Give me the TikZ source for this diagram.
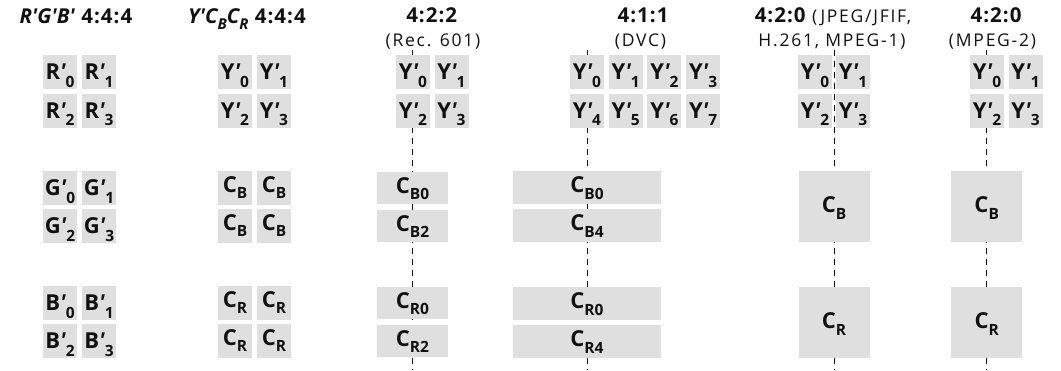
\documentclass[tikz,border=0pt]{standalone}
\usepackage{fontspec}
\setmainfont{Open Sans}
% a second face without the TeX quote mapping, so that ' stays a straight prime
\newfontfamily\primefont{Open Sans}

\definecolor{cellgray}{RGB}{223,223,223}
\definecolor{ink}{RGB}{17,17,17}

% prime and lowered subscripts
\newcommand\pr{{\primefont\bfseries\itshape '}}
\newcommand\sby[1]{\raisebox{-7.5pt}{\fontsize{15.5}{15.5}\selectfont #1}}
\newcommand\sbc[1]{\raisebox{-6.5pt}{\fontsize{15.5}{15.5}\selectfont #1}}
\newcommand\sbt[1]{\raisebox{-6.5pt}{\fontsize{15}{15}\selectfont #1}}
\newcommand\yl[2]{#1\pr\sby{#2}}
\newcommand\cl[1]{C\sbc{#1}}
\newcommand\lblfont{\fontsize{22}{26}\selectfont\bfseries}
\newcommand\ttlfont{\fontsize{20.5}{24}\selectfont\bfseries\addfontfeature{LetterSpace=5}}
\newcommand\subfont{\fontsize{17.5}{21}\selectfont\addfontfeature{LetterSpace=10}}

\begin{document}
\begin{tikzpicture}[x=1pt,y=-1pt,
  cell/.style={fill=cellgray, inner sep=0pt, minimum width=34pt, minimum height=34pt,
    text=ink, font=\lblfont, text height=15pt, text depth=0pt},
  ccell/.style={cell, text height=8pt},
  wide/.style={cell, minimum width=71pt, minimum height=31.7pt, text height=11pt},
  wider/.style={cell, minimum width=148pt, minimum height=32.7pt, text height=11pt},
  big/.style={cell, minimum width=71pt, minimum height=70.7pt, text height=13pt},
  ttl/.style={anchor=base, inner sep=0pt, text=ink, font=\ttlfont},
  sub/.style={anchor=base, inner sep=0pt, text=ink, font=\subfont},
  dashline/.style={draw=ink, line width=0.9pt, dash pattern=on 6pt off 5pt}]
\useasboundingbox (0,0) rectangle (1061,370);

% siting lines of the subsampled chroma, drawn beneath the samples
\coordinate (a1) at (412.5,50);  \coordinate (a2) at (412.5,370);
\coordinate (b1) at (587,50);    \coordinate (b2) at (587,370);
\coordinate (c1) at (834,50);    \coordinate (c2) at (834,370);
\coordinate (e1) at (986.7,50);  \coordinate (e2) at (986.7,370);
\draw[dashline] (a1) -- (a2);
\draw[dashline] (b1) -- (b2);
\draw[dashline] (c1) -- (c2);
\draw[dashline] (e1) -- (e2);

% headings
\node[ttl] (h1) at (76,23) {\textit{R\pr G\pr B\pr} 4:4:4};
\node[ttl] (h2) at (247,23) {\textit{Y\pr C\sbt{B}C\sbt{R}} 4:4:4};
\node[ttl] (h3) at (431.7,22) {4:2:2};
\node[sub] (s3) at (433,46.5) {(Rec. 601)};
\node[ttl] (h4) at (643,22) {4:1:1};
\node[sub] (s4) at (640.5,46.5) {(DVC)};
\node[ttl] (h5) at (833,22) {4:2:0 {\mdseries\subfont (JPEG/JFIF,}};
\node[sub] (s5) at (832,46.5) {H.261, MPEG-1)};
\node[ttl] (h6) at (996,22) {4:2:0};
\node[sub] (s6) at (992.5,46.5) {(MPEG-2)};

% R'G'B' 4:4:4
\node[cell] (r0) at (60,72) {\yl{R}{0}};
\node[cell] (r1) at (99,72) {\yl{R}{1}};
\node[cell] (r2) at (60,110.7) {\yl{R}{2}};
\node[cell] (r3) at (99,110.7) {\yl{R}{3}};
\node[cell] (g0) at (60,188) {\yl{G}{0}};
\node[cell] (g1) at (99,188) {\yl{G}{1}};
\node[cell] (g2) at (60,226) {\yl{G}{2}};
\node[cell] (g3) at (99,226) {\yl{G}{3}};
\node[cell] (bb0) at (60,303) {\yl{B}{0}};
\node[cell] (bb1) at (99,303) {\yl{B}{1}};
\node[cell] (bb2) at (60,341) {\yl{B}{2}};
\node[cell] (bb3) at (99,341) {\yl{B}{3}};

% Y'CbCr 4:4:4
\node[cell] (ya0) at (235,72) {\yl{Y}{0}};
\node[cell] (ya1) at (274,72) {\yl{Y}{1}};
\node[cell] (ya2) at (235,110.7) {\yl{Y}{2}};
\node[cell] (ya3) at (274,110.7) {\yl{Y}{3}};
\node[ccell] (cba0) at (235,188) {\cl{B}};
\node[ccell] (cba1) at (274,188) {\cl{B}};
\node[ccell] (cba2) at (235,226) {\cl{B}};
\node[ccell] (cba3) at (274,226) {\cl{B}};
\node[ccell] (cra0) at (235,303) {\cl{R}};
\node[ccell] (cra1) at (274,303) {\cl{R}};
\node[ccell] (cra2) at (235,341) {\cl{R}};
\node[ccell] (cra3) at (274,341) {\cl{R}};

% 4:2:2
\node[cell] (yb0) at (413,72) {\yl{Y}{0}};
\node[cell] (yb1) at (451.5,72) {\yl{Y}{1}};
\node[cell] (yb2) at (413,110.7) {\yl{Y}{2}};
\node[cell] (yb3) at (451.5,110.7) {\yl{Y}{3}};
\node[wide] (cbb0) at (412.5,187.8) {\cl{B0}};
\node[wide] (cbb2) at (412.5,225.8) {\cl{B2}};
\node[wide] (crb0) at (412.5,302.8) {\cl{R0}};
\node[wide] (crb2) at (412.5,340.8) {\cl{R2}};

% 4:1:1
\node[cell] (yc0) at (587,72) {\yl{Y}{0}};
\node[cell] (yc1) at (625.7,72) {\yl{Y}{1}};
\node[cell] (yc2) at (664.4,72) {\yl{Y}{2}};
\node[cell] (yc3) at (703.1,72) {\yl{Y}{3}};
\node[cell] (yc4) at (587,110.7) {\yl{Y}{4}};
\node[cell] (yc5) at (625.7,110.7) {\yl{Y}{5}};
\node[cell] (yc6) at (664.4,110.7) {\yl{Y}{6}};
\node[cell] (yc7) at (703.1,110.7) {\yl{Y}{7}};
\node[wider] (cbc0) at (587,187.3) {\cl{B0}};
\node[wider] (cbc4) at (587,225.3) {\cl{B4}};
\node[wider] (crc0) at (587,303.3) {\cl{R0}};
\node[wider] (crc4) at (587,341.3) {\cl{R4}};

% 4:2:0 (JPEG/JFIF, H.261, MPEG-1)
\node[cell] (yd0) at (815,72) {\yl{Y}{0}};
\node[cell] (yd1) at (853,72) {\yl{Y}{1}};
\node[cell] (yd2) at (815,110.7) {\yl{Y}{2}};
\node[cell] (yd3) at (853,110.7) {\yl{Y}{3}};
\node[big] (cbd) at (834,206.3) {\cl{B}};
\node[big] (crd) at (834,322.3) {\cl{R}};

% 4:2:0 (MPEG-2)
\node[cell] (ye0) at (987,72) {\yl{Y}{0}};
\node[cell] (ye1) at (1025.5,72) {\yl{Y}{1}};
\node[cell] (ye2) at (987,110.7) {\yl{Y}{2}};
\node[cell] (ye3) at (1025.5,110.7) {\yl{Y}{3}};
\node[big] (cbe) at (986.7,206.3) {\cl{B}};
\node[big] (cre) at (986.7,322.3) {\cl{R}};
\end{tikzpicture}
\end{document}
